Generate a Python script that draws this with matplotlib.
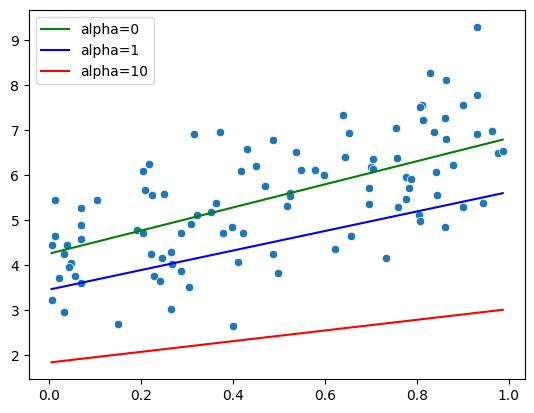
import matplotlib
matplotlib.use("Agg")
import matplotlib.pyplot as plt
import seaborn as sns
import numpy as np

# scatter points
x = [0.012, 0.012, 0.005, 0.038, 0.031, 0.048, 0.044, 0.022, 0.055, 0.068,
     0.007, 0.033, 0.070, 0.070, 0.070, 0.103, 0.149, 0.192, 0.205, 0.205,
     0.217, 0.208, 0.223, 0.250, 0.221, 0.245, 0.229, 0.240, 0.266, 0.268,
     0.264, 0.286, 0.286,
     0.316, 0.371, 0.430, 0.417, 0.449, 0.486, 0.536, 0.549, 0.578, 0.599,
     0.639, 0.652, 0.643, 0.469, 0.525, 0.523, 0.517, 0.362, 0.351, 0.321,
     0.308, 0.379, 0.397, 0.421, 0.305, 0.410, 0.401, 0.486, 0.497, 0.623,
     0.656,
     0.930, 0.828, 0.863, 0.932, 0.900, 0.811, 0.808, 0.813, 0.861, 0.754,
     0.837, 0.932, 0.963, 0.863, 0.976, 0.987, 0.704, 0.700, 0.704, 0.756,
     0.878, 0.776, 0.787, 0.841, 0.695, 0.782, 0.776, 0.843, 0.697, 0.760,
     0.900, 0.943, 0.804, 0.806, 0.861, 0.734]
y = [5.44, 4.64, 4.44, 4.44, 4.26, 4.04, 3.97, 3.71, 3.75, 3.60,
     3.22, 2.97, 5.28, 4.90, 4.59, 5.44, 2.69, 4.79, 4.72, 6.10,
     6.25, 5.68, 5.57, 5.59, 4.24, 4.17, 3.75, 3.66, 4.30, 4.02,
     3.02, 4.72, 3.88,
     6.92, 6.96, 6.59, 6.10, 6.21, 6.79, 6.52, 6.12, 6.12, 6.01,
     7.34, 6.94, 6.41, 5.77, 5.60, 5.54, 5.32, 5.39, 5.19, 5.12,
     4.92, 4.72, 4.84, 4.72, 3.51, 4.08, 2.64, 4.24, 3.82, 4.37,
     4.64,
     9.29, 8.27, 8.11, 7.78, 7.56, 7.56, 7.51, 7.23, 7.27, 7.05,
     6.96, 6.92, 6.98, 6.81, 6.50, 6.54, 6.36, 6.19, 6.14, 6.39,
     6.23, 5.97, 5.92, 6.08, 5.72, 5.72, 5.48, 5.57, 5.35, 5.30,
     5.30, 5.39, 5.12, 4.99, 4.86, 4.17]

# fitted lines (endpoints)
line_x = [0.005, 0.987]
fit_alpha0 = [4.27, 6.79]
fit_alpha1 = [3.47, 5.60]
fit_alpha10 = [1.845, 3.01]

fig = plt.figure(figsize=(5.34, 4.13), dpi=100)
ax = fig.add_axes([0.0543, 0.0823, 0.9294, 0.8927])

sns.scatterplot(x=x, y=y, ax=ax)
ax.plot(line_x, fit_alpha0, color="green", label="alpha=0")
ax.plot(line_x, fit_alpha1, color="blue", label="alpha=1")
ax.plot(line_x, fit_alpha10, color="red", label="alpha=10")
ax.legend(loc="upper left")

fig.savefig("out.png", dpi=100)
